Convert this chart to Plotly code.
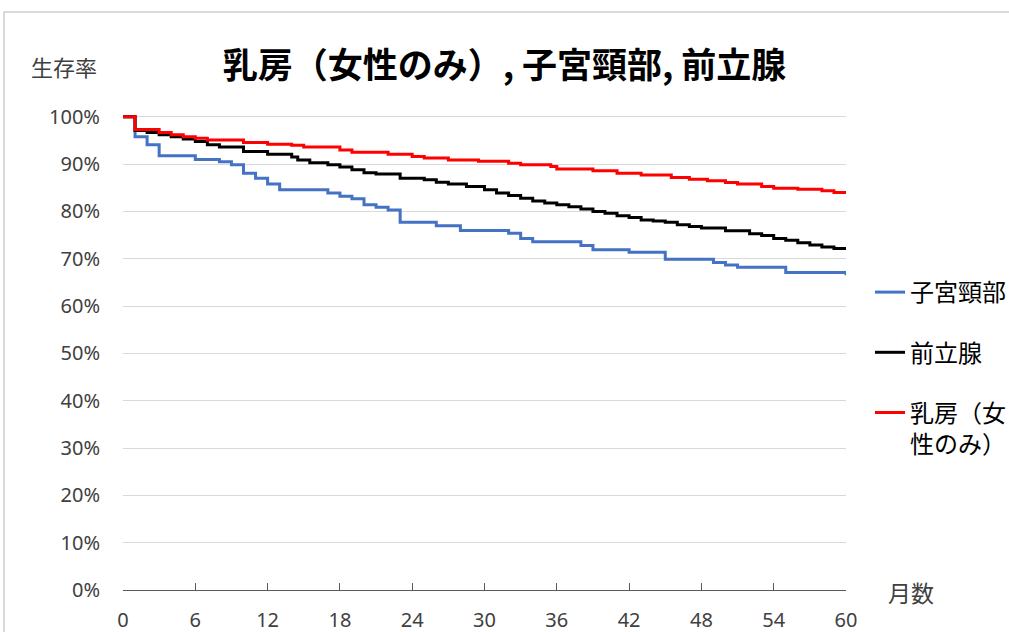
import plotly.graph_objects as go

# ---- data (survival %, by month) ----
months_cervix = [0, 1, 2, 3, 6, 8, 9, 10, 11, 12, 13, 17, 18, 19, 20, 21, 22, 23, 26, 28,
                 32, 33, 34, 38, 39, 42, 45, 49, 50, 51, 55, 60]
surv_cervix = [100, 95.8, 94.1, 91.8, 91.0, 90.5, 89.9, 88.1, 87.0, 85.8, 84.6, 83.9, 83.2,
               82.7, 81.4, 80.9, 80.3, 77.7, 77.0, 76.0, 75.4, 74.3, 73.6, 72.8, 71.9, 71.4,
               69.9, 69.2, 68.7, 68.2, 67.1, 66.5]

months_prostate = [0, 1, 2, 3, 4, 5, 6, 7, 8, 10, 12, 14, 14.5, 15.5, 17, 18, 19, 20, 21, 23,
                   25, 26, 27, 28.5, 30, 31, 32, 33, 34, 35, 36, 37, 38, 39, 40, 41, 42, 43,
                   44, 45, 46, 47, 48, 50, 52, 53, 54, 55, 56, 57, 58, 59, 60]
surv_prostate = [100, 97.1, 96.7, 96.2, 95.8, 95.3, 94.8, 94.1, 93.6, 92.7, 92.1, 91.5, 90.9,
                 90.3, 89.9, 89.4, 88.8, 88.2, 87.9, 87.0, 86.7, 86.2, 85.8, 85.3, 84.6, 83.9,
                 83.4, 82.8, 82.2, 81.8, 81.4, 81.0, 80.5, 80.0, 79.6, 79.1, 78.7, 78.2, 78.0,
                 77.7, 77.2, 76.8, 76.5, 75.9, 75.3, 74.9, 74.3, 73.9, 73.4, 72.9, 72.5, 72.2,
                 72.2]

months_breast = [0, 1, 3, 4, 5, 6, 7, 10, 12, 14, 15, 18, 19, 22, 24, 25, 27, 29.5, 32, 33,
                 35.5, 36, 39, 41, 43, 45.5, 47, 48.5, 50, 51, 53, 54, 56, 58, 59, 60]
surv_breast = [100, 97.3, 96.7, 96.2, 95.8, 95.5, 95.1, 94.6, 94.2, 94.0, 93.6, 93.0, 92.5,
               92.1, 91.6, 91.3, 90.9, 90.6, 90.2, 89.9, 89.5, 89.0, 88.6, 88.1, 87.7, 87.2,
               86.8, 86.5, 86.1, 85.8, 85.3, 84.9, 84.7, 84.4, 84.0, 84.0]

series_names = ["子宮頸部", "前立腺", "乳房（女<br>性のみ）"]
series_colors = ["#4472C4", "#000000", "#FF0000"]

x_ticks = [0, 6, 12, 18, 24, 30, 36, 42, 48, 54, 60]
y_ticks = [0, 10, 20, 30, 40, 50, 60, 70, 80, 90, 100]
y_tick_labels = [f"{v}%" for v in y_ticks]

title_text = "乳房（女性のみ）, 子宮頸部, 前立腺"
y_label = "生存率"
x_label = "月数"

JP = "Noto Sans CJK JP"
NUM = "Noto Sans"

fig = go.Figure()
for i, (xs, ys) in enumerate([(months_cervix, surv_cervix),
                              (months_prostate, surv_prostate),
                              (months_breast, surv_breast)]):
    fig.add_trace(go.Scatter(
        x=xs, y=ys, mode="lines", line=dict(shape="hv", color=series_colors[i], width=3),
        name=series_names[i], legendgroup=str(i),
    ))

W, H = 1009, 632
L, R, T, B = 123, 163, 114, 42
pw, ph = W - L - R, H - T - B

def px_x(p):
    return (p - L) / pw

def px_y(p):
    return (H - B - p) / ph

fig.update_layout(
    width=W, height=H,
    margin=dict(l=L, r=R, t=T, b=B, autoexpand=False),
    paper_bgcolor="white", plot_bgcolor="white",
    title=dict(text=title_text, x=0.5, xanchor="center", xref="container",
               y=1 - 66 / H, yanchor="middle", yref="container",
               font=dict(family=JP, size=35, color="#000000", weight="bold")),
    xaxis=dict(range=[0, 60], tickvals=x_ticks, showgrid=False, zeroline=False,
               showline=True, linecolor="#595959", linewidth=1,
               ticks="inside", ticklen=7, tickcolor="#595959", tickwidth=1,
               ticklabelstandoff=12,
               tickfont=dict(family=NUM, size=20, color="#404040")),
    yaxis=dict(range=[0, 100.6], tickvals=y_ticks, ticktext=y_tick_labels,
               showgrid=True, gridcolor="#d9d9d9", gridwidth=1, zeroline=False,
               showline=False, ticks="", ticklabelstandoff=22,
               tickfont=dict(family=NUM, size=20, color="#404040")),
    legend=dict(x=px_x(870), xanchor="left", y=px_y(270), yanchor="top",
                traceorder="grouped", tracegroupgap=26, valign="top",
                font=dict(family=JP, size=24, color="#000000"),
                bgcolor="rgba(0,0,0,0)"),
    showlegend=True,
)

fig.add_annotation(text=y_label, xref="paper", yref="paper", x=px_x(64), y=px_y(66),
                   showarrow=False, xanchor="center", yanchor="middle",
                   font=dict(family=JP, size=22, color="#404040"))
fig.add_annotation(text=x_label, xref="paper", yref="paper", x=px_x(911), y=px_y(592),
                   showarrow=False, xanchor="center", yanchor="middle",
                   font=dict(family=JP, size=23, color="#404040"))

fig.add_shape(type="rect", xref="paper", yref="paper",
              x0=px_x(4), y0=px_y(645), x1=px_x(1020), y1=px_y(12),
              line=dict(color="#d9d9d9", width=2), fillcolor="rgba(0,0,0,0)", layer="below")

fig.write_html("out.html",
               config={"displayModeBar": False},
               post_script="document.body.style.margin='0';document.body.style.overflow='hidden';")
